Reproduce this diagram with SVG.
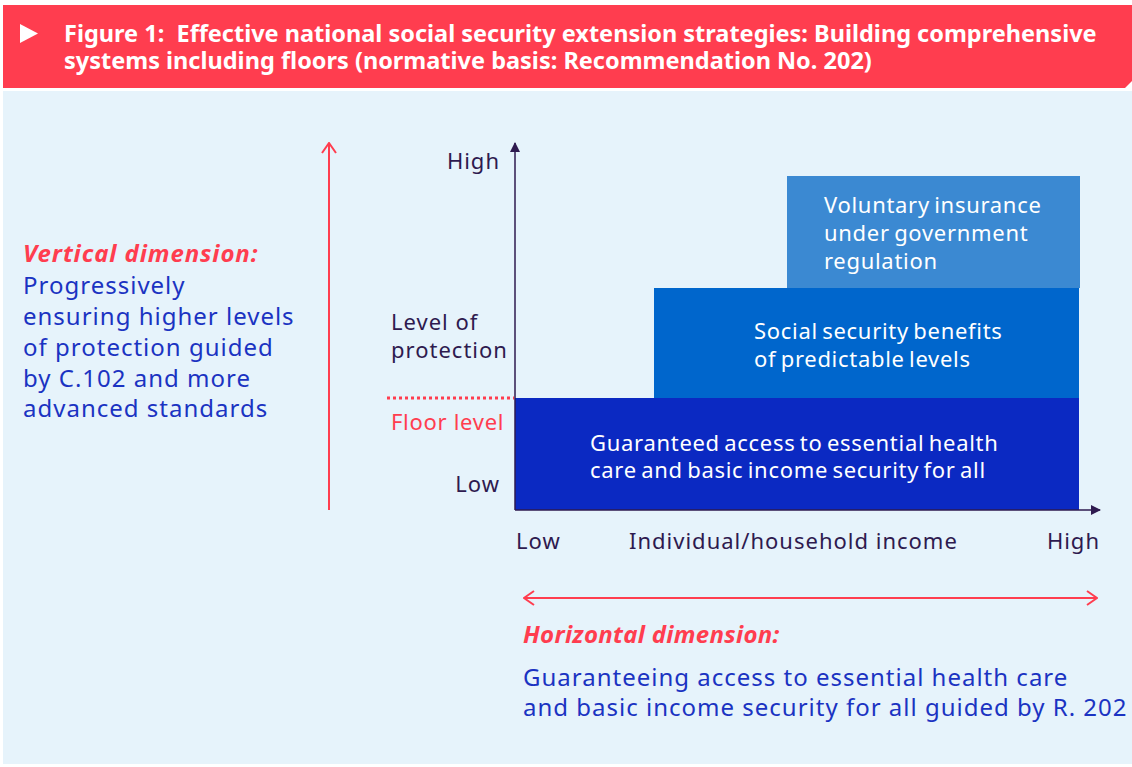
<svg xmlns="http://www.w3.org/2000/svg" width="1132" height="767" viewBox="0 0 1132 767">
  <defs>
    <marker id="axisHead" viewBox="0 0 10 10" refX="9" refY="5" markerWidth="10" markerHeight="10" markerUnits="userSpaceOnUse" orient="auto">
      <path d="M0,0 L10,5 L0,10 z" fill="#2e1a4f"/>
    </marker>
    <marker id="openHead" viewBox="0 0 12 16" refX="11" refY="8" markerWidth="12" markerHeight="16" markerUnits="userSpaceOnUse" orient="auto-start-reverse">
      <path d="M1,1 L11,8 L1,15" fill="none" stroke="#ff3d4f" stroke-width="2"/>
    </marker>
    <style>
      text { font-family: "Noto Sans", "Open Sans", "DejaVu Sans", sans-serif; }
      .title { font-size: 23.5px; font-weight: bold; fill: #ffffff; white-space: pre; }
      .dimHead { font-size: 24px; font-weight: bold; font-style: italic; fill: #ff3d4f; }
      .dimBody { font-size: 24px; fill: #1b33c2; letter-spacing: 1px; }
      .axisLbl { font-size: 22px; fill: #2e1a4f; letter-spacing: 1px; }
      .floorLbl { font-size: 22px; fill: #ff3d4f; letter-spacing: 0.7px; }
      .boxTxt { font-size: 22px; fill: #ffffff; letter-spacing: 0.7px; word-spacing: -2px; }
    </style>
  </defs>

  <!-- page -->
  <rect x="0" y="0" width="1132" height="767" fill="#ffffff"/>
  <rect x="3" y="91" width="1129" height="673" fill="#e6f3fb"/>

  <!-- title banner -->
  <g id="title">
    <polygon points="3,5 1132,5 1132,81 1125,88 3,88" fill="#ff3d4f"/>
    <polygon points="20,24 38,33.5 20,43" fill="#ffffff"/>
    <text class="title" x="64" y="42">Figure 1:  Effective national social security extension strategies: Building comprehensive</text>
    <text class="title" x="64" y="69">systems including floors (normative basis: Recommendation No. 202)</text>
  </g>

  <!-- protection tiers -->
  <g id="tier-floor">
    <rect x="515" y="398" width="564" height="112" fill="#0b29c2"/>
    <text class="boxTxt" x="590" y="451">Guaranteed access to essential health</text>
    <text class="boxTxt" x="590" y="478">care and basic income security for all</text>
  </g>
  <g id="tier-social-security">
    <rect x="654" y="288" width="425" height="110" fill="#0066cc"/>
    <text class="boxTxt" x="754" y="339" letter-spacing="1" word-spacing="-1">Social security benefits</text>
    <text class="boxTxt" x="754" y="367" letter-spacing="1" word-spacing="-1">of predictable levels</text>
  </g>
  <g id="tier-voluntary">
    <rect x="787" y="176" width="293" height="112" fill="#3b89d2"/>
    <text class="boxTxt" x="824" y="213">Voluntary insurance</text>
    <text class="boxTxt" x="824" y="241">under government</text>
    <text class="boxTxt" x="824" y="269">regulation</text>
  </g>

  <!-- axes, arrows and floor line -->
  <g id="connectors">
    <line x1="515" y1="510" x2="515" y2="143" stroke="#2e1a4f" stroke-width="1.5" marker-end="url(#axisHead)"/>
    <line x1="515" y1="510" x2="1100" y2="510" stroke="#2e1a4f" stroke-width="1.5" marker-end="url(#axisHead)"/>
    <line x1="387" y1="398" x2="514" y2="398" stroke="#ff3d4f" stroke-width="3" stroke-dasharray="3 3"/>
    <line x1="329" y1="510" x2="329" y2="143" stroke="#ff3d4f" stroke-width="2" marker-end="url(#openHead)"/>
    <line x1="524" y1="598" x2="1097" y2="598" stroke="#ff3d4f" stroke-width="2" marker-start="url(#openHead)" marker-end="url(#openHead)"/>
  </g>

  <!-- axis labels -->
  <g id="axis-labels">
    <text class="axisLbl" x="500" y="169" text-anchor="end">High</text>
    <text class="axisLbl" x="391" y="330">Level of</text>
    <text class="axisLbl" x="391" y="358">protection</text>
    <text class="floorLbl" x="391" y="430">Floor level</text>
    <text class="axisLbl" x="500" y="492" text-anchor="end">Low</text>
    <text class="axisLbl" x="516" y="549">Low</text>
    <text class="axisLbl" x="629" y="549">Individual/household income</text>
    <text class="axisLbl" x="1100" y="549" text-anchor="end">High</text>
  </g>

  <!-- vertical dimension note -->
  <g id="vertical-dimension">
    <text class="dimHead" x="23" y="262" letter-spacing="0.9">Vertical dimension:</text>
    <text class="dimBody" x="23" y="294">Progressively</text>
    <text class="dimBody" x="23" y="325">ensuring higher levels</text>
    <text class="dimBody" x="23" y="356">of protection guided</text>
    <text class="dimBody" x="23" y="387">by C.102 and more</text>
    <text class="dimBody" x="23" y="417">advanced standards</text>
  </g>

  <!-- horizontal dimension note -->
  <g id="horizontal-dimension">
    <text class="dimHead" x="523" y="643" letter-spacing="0.3">Horizontal dimension:</text>
    <text class="dimBody" x="523" y="686" letter-spacing="0.5">Guaranteeing access to essential health care</text>
    <text class="dimBody" x="523" y="716" letter-spacing="0.5">and basic income security for all guided by R. 202</text>
  </g>
</svg>
